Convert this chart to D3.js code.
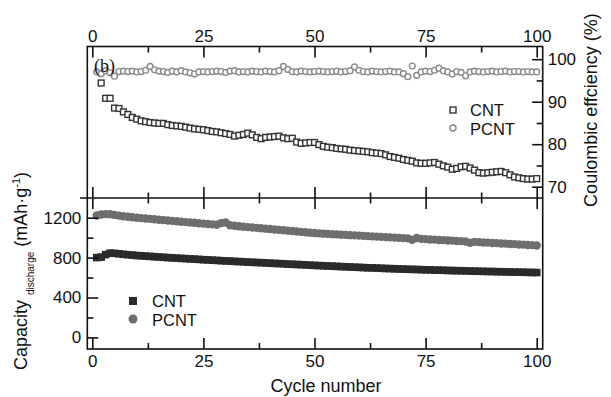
<!DOCTYPE html>
<html>
<head>
<meta charset="utf-8">
<script src="https://cdn.jsdelivr.net/npm/d3@7"></script>
<style>
  body { margin: 0; background: #fff; }
  svg text { font-family: "Liberation Sans", Arial, sans-serif; fill: #111; }
  svg text.serif { font-family: "Liberation Serif", "Times New Roman", serif; }
</style>
</head>
<body>
<div id="vis"></div>
<script>
// ----------------
// 1. Data
// ----------------
const cntCeStart = 2;   // CNT coulombic efficiency starts at cycle 2
const cntCe = [
    94.4, 90.8, 90.8, 88.5, 88.4, 87.6, 87.0, 86.3, 85.9,
    85.5, 85.3, 85.1, 85.0, 84.9, 84.9, 84.6, 84.4, 84.3, 84.2,
    84.0, 83.8, 83.6, 83.5, 83.4, 83.2, 83.0, 82.9, 82.7, 82.5,
    82.3, 81.9, 82.1, 82.3, 82.6, 82.2, 81.6, 81.3, 81.6, 81.7,
    81.8, 81.9, 81.5, 81.3, 81.4, 80.5, 80.2, 80.3, 80.4, 80.4,
    79.9, 79.5, 79.3, 79.2, 79.0, 78.9, 78.8, 78.6, 78.5, 78.4,
    78.3, 78.2, 78.0, 77.9, 77.8, 77.5, 77.1, 76.9, 76.7, 76.4,
    76.2, 76.0, 75.6, 75.5, 75.5, 75.6, 75.7, 75.3, 74.9, 74.6,
    74.1, 74.3, 74.7, 74.8, 74.4, 73.9, 73.3, 73.2, 73.3, 73.4,
    73.5, 73.6, 73.3, 72.8, 72.3, 72.1, 71.9, 71.8, 71.8, 71.9
];
const pcntCeStart = 1;
const pcntCe = [
    97.0, 96.6, 97.3, 96.8, 96.0, 97.1, 97.2, 97.1, 97.2, 97.0,
    97.1, 97.4, 98.3, 97.5, 97.2, 97.1, 96.9, 97.2, 97.0, 97.3,
    97.0, 96.8, 96.5, 97.0, 97.1, 97.0, 97.1, 97.2, 97.1, 96.9,
    97.2, 97.3, 97.0, 97.1, 97.0, 97.2, 97.1, 97.0, 97.2, 97.1,
    97.0, 97.3, 98.3, 97.6, 97.1, 97.0, 97.2, 97.1, 97.0, 97.1,
    97.2, 97.1, 97.0, 97.1, 97.2, 97.0, 97.1, 97.3, 98.2, 97.4,
    97.1, 97.0, 97.2, 97.1, 97.0, 97.1, 97.2, 97.0, 97.0, 96.6,
    95.9, 98.4, 96.2, 97.0, 97.2, 97.1, 97.4, 97.9, 97.3, 97.0,
    96.5, 97.1, 96.9, 96.1, 97.0, 97.2, 97.1, 97.0, 97.1, 97.2,
    97.0, 97.1, 97.2, 97.0, 97.1, 97.1, 97.0, 97.1, 97.0, 97.0
];
const capStart = 1;
const cntCap = [
    800, 805, 830, 845, 843, 838, 833, 829, 825, 821,
    818, 815, 812, 809, 806, 803, 800, 797, 795, 792,
    790, 787, 785, 782, 779, 777, 774, 772, 769, 767,
    765, 762, 760, 758, 755, 753, 751, 749, 747, 744,
    742, 740, 738, 735, 733, 731, 729, 727, 724, 722,
    720, 718, 716, 714, 712, 710, 708, 706, 704, 702,
    700, 698, 697, 695, 693, 691, 690, 688, 686, 685,
    683, 682, 681, 679, 678, 677, 675, 674, 673, 671,
    670, 669, 668, 667, 665, 664, 663, 662, 661, 660,
    659, 658, 657, 656, 655, 654, 653, 652, 651, 650
];
const pcntCap = [
    1222, 1232, 1236, 1234, 1228, 1221, 1215, 1210, 1205, 1200,
    1196, 1192, 1188, 1184, 1180, 1176, 1172, 1168, 1164, 1160,
    1156, 1152, 1149, 1145, 1141, 1137, 1133, 1130, 1146, 1152,
    1124, 1119, 1115, 1110, 1106, 1102, 1098, 1094, 1090, 1086,
    1082, 1078, 1074, 1070, 1066, 1062, 1058, 1054, 1050, 1046,
    1043, 1040, 1038, 1035, 1033, 1030, 1028, 1025, 1023, 1020,
    1018, 1015, 1013, 1010, 1008, 1005, 1003, 1000, 998, 995,
    993, 978, 996, 988, 985, 982, 980, 977, 975, 972,
    970, 967, 965, 962, 948, 958, 955, 952, 950, 947,
    945, 942, 940, 937, 935, 932, 930, 927, 925, 922
];

const xMajor = [0, 25, 50, 75, 100];
const xMinor = [12.5, 37.5, 62.5, 87.5];
const ceMajor = [70, 80, 90, 100];
const ceMinor = [75, 85, 95];
const capMajor = [0, 400, 800, 1200];
const capMinor = [200, 600, 1000];
const seriesNames = ["CNT", "PCNT"];

// ----------------
// 2. Dimensions
// ----------------
const dims = {
    width: 611, height: 397,
    left: 87.3, right: 542.7, top: 46.5, bottom: 349, split: 198
};

const svg = d3.select("#vis")
    .append("svg")
    .attr("width", dims.width)
    .attr("height", dims.height);

// ----------------
// 3. Scales
// ----------------
const xScale = d3.scaleLinear().domain([0, 100]).range([92.3, 536.7]);
const ceScale = d3.scaleLinear().domain([70, 100]).range([186.7, 59.2]);
const capScale = d3.scaleLinear().domain([0, 1200]).range([337.4, 217.7]);

const toPoints = (vals, start) => vals.map((v, i) => ({c: start + i, v: v}));

// ----------------
// 4. Data marks
// ----------------
// bottom panel: discharge capacity
svg.append("g").selectAll("circle")
    .data(toPoints(pcntCap, capStart))
    .join("circle")
    .attr("cx", d => xScale(d.c))
    .attr("cy", d => capScale(d.v))
    .attr("r", 4.2)
    .attr("fill", "#6e6e6e");

svg.append("g").selectAll("rect")
    .data(toPoints(cntCap, capStart))
    .join("rect")
    .attr("x", d => xScale(d.c) - 3.8)
    .attr("y", d => capScale(d.v) - 3.8)
    .attr("width", 7.6)
    .attr("height", 7.6)
    .attr("fill", "#2a2a2a");

// top panel: coulombic efficiency
svg.append("g").selectAll("circle")
    .data(toPoints(pcntCe, pcntCeStart))
    .join("circle")
    .attr("cx", d => xScale(d.c))
    .attr("cy", d => ceScale(d.v))
    .attr("r", 2.9)
    .attr("fill", "#fff")
    .attr("stroke", "#8a8a8a")
    .attr("stroke-width", 1.4);

svg.append("g").selectAll("rect")
    .data(toPoints(cntCe, cntCeStart))
    .join("rect")
    .attr("x", d => xScale(d.c) - 2.9)
    .attr("y", d => ceScale(d.v) - 2.9)
    .attr("width", 5.8)
    .attr("height", 5.8)
    .attr("fill", "#fff")
    .attr("stroke", "#333")
    .attr("stroke-width", 1.4);

// ----------------
// 5. Frame and axes
// ----------------
svg.append("rect")
    .attr("x", dims.left).attr("y", dims.top)
    .attr("width", dims.right - dims.left)
    .attr("height", dims.bottom - dims.top)
    .attr("fill", "none").attr("stroke", "#111").attr("stroke-width", 1.6);

svg.append("line")
    .attr("x1", 80).attr("x2", dims.right)
    .attr("y1", dims.split).attr("y2", dims.split)
    .attr("stroke", "#111").attr("stroke-width", 1.6);

function styleAxis(g) {
    g.select(".domain").remove();
    g.selectAll(".tick line").attr("stroke", "#111").attr("stroke-width", 1.6);
    g.selectAll(".tick text").attr("font-size", 17).attr("fill", "#111");
}

function addAxis(axis, tx, ty) {
    svg.append("g")
        .attr("transform", `translate(${tx},${ty})`)
        .call(axis)
        .call(styleAxis);
}

const plain = d3.format("d");

// top x axis (labels above, ticks inward)
addAxis(d3.axisTop(xScale).tickValues(xMajor).tickFormat(plain).tickSize(-11).tickPadding(5), 0, dims.top);
addAxis(d3.axisTop(xScale).tickValues(xMinor).tickSize(-6).tickFormat(""), 0, dims.top);

// bottom x axis
addAxis(d3.axisBottom(xScale).tickValues(xMajor).tickFormat(plain).tickSize(-11).tickPadding(6), 0, dims.bottom);
addAxis(d3.axisBottom(xScale).tickValues(xMinor).tickSize(-6).tickFormat(""), 0, dims.bottom);

// split line ticks, both directions
addAxis(d3.axisBottom(xScale).tickValues(xMajor).tickSize(11).tickFormat(""), 0, dims.split);
addAxis(d3.axisTop(xScale).tickValues(xMajor).tickSize(11).tickFormat(""), 0, dims.split);
addAxis(d3.axisBottom(xScale).tickValues(xMinor).tickSize(5.5).tickFormat(""), 0, dims.split);
addAxis(d3.axisTop(xScale).tickValues(xMinor).tickSize(5.5).tickFormat(""), 0, dims.split);

// right axis: coulombic efficiency
addAxis(d3.axisRight(ceScale).tickValues(ceMajor).tickFormat(plain).tickSize(-10.5).tickPadding(5), dims.right, 0);
addAxis(d3.axisRight(ceScale).tickValues(ceMinor).tickSize(-6).tickFormat(""), dims.right, 0);

// left axis: capacity
addAxis(d3.axisLeft(capScale).tickValues(capMajor).tickFormat(plain).tickSize(-11).tickPadding(6), dims.left, 0);
addAxis(d3.axisLeft(capScale).tickValues(capMinor).tickSize(-6).tickFormat(""), dims.left, 0);

// ----------------
// 6. Labels and legends
// ----------------
svg.append("text")
    .attr("x", 326).attr("y", 392)
    .attr("text-anchor", "middle")
    .attr("font-size", 18)
    .text("Cycle number");

svg.append("text")
    .attr("transform", "translate(597,110) rotate(-90)")
    .attr("text-anchor", "middle")
    .attr("font-size", 18)
    .text("Coulombic effciency (%)");

const capLabel = svg.append("text")
    .attr("transform", "translate(27,271) rotate(-90)")
    .attr("text-anchor", "middle")
    .attr("font-size", 18);
capLabel.append("tspan").text("Capacity ");
capLabel.append("tspan").attr("font-size", 10).attr("dy", 7).text("discharge");
capLabel.append("tspan").attr("dy", -7).text(" (mAh·g");
capLabel.append("tspan").attr("font-size", 11).attr("dy", -7).text("-1");
capLabel.append("tspan").attr("dy", 7).text(")");

svg.append("text")
    .attr("class", "serif")
    .attr("x", 94).attr("y", 72)
    .attr("font-size", 18)
    .text("(b)");

// top legend: open markers
const legTop = svg.append("g");
legTop.append("rect")
    .attr("x", 450).attr("y", 107).attr("width", 6).attr("height", 6)
    .attr("fill", "#fff").attr("stroke", "#333").attr("stroke-width", 1.4);
legTop.append("circle")
    .attr("cx", 453).attr("cy", 128).attr("r", 3)
    .attr("fill", "#fff").attr("stroke", "#8a8a8a").attr("stroke-width", 1.4);
legTop.selectAll("text")
    .data(seriesNames)
    .join("text")
    .attr("x", 470)
    .attr("y", (d, i) => 116 + i * 19)
    .attr("font-size", 16.5)
    .text(d => d);

// bottom legend: filled markers
const legBot = svg.append("g");
legBot.append("rect")
    .attr("x", 129).attr("y", 297).attr("width", 8).attr("height", 8)
    .attr("fill", "#2a2a2a");
legBot.append("circle")
    .attr("cx", 133).attr("cy", 319).attr("r", 4.5)
    .attr("fill", "#6e6e6e");
legBot.selectAll("text")
    .data(seriesNames)
    .join("text")
    .attr("x", 152)
    .attr("y", (d, i) => 307 + i * 19)
    .attr("font-size", 16.5)
    .text(d => d);
</script>
</body>
</html>
